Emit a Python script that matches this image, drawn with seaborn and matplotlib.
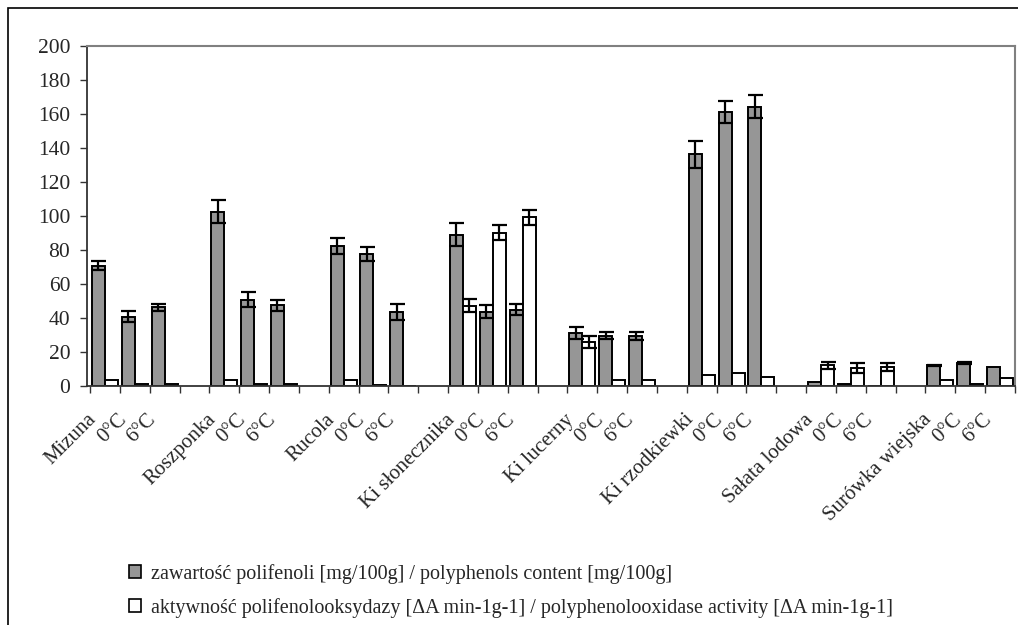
import numpy as np
import pandas as pd
import matplotlib
matplotlib.use("Agg")
import matplotlib.pyplot as plt
import seaborn as sns
from matplotlib.patches import Rectangle, Patch
from matplotlib.container import BarContainer

# ---------------- data ----------------
products = ["Mizuna", "Roszponka", "Rucola", "Ki słonecznika", "Ki lucerny",
            "Ki rzodkiewki", "Sałata lodowa", "Surówka wiejska"]
conditions = ["0°C", "6°C"]
series_names = ["zawartość polifenoli [mg/100g] / polyphenols content [mg/100g]",
                "aktywność polifenolooksydazy [ΔA min-1g-1] / polyphenolooxidase activity [ΔA min-1g-1]"]

# per product: [fresh, 0°C, 6°C]
polyphenols = [[70.8, 40.7, 46.2], [102.5, 50.7, 47.4], [82.2, 77.7, 43.8],
               [89.0, 43.8, 45.0], [31.3, 29.5, 29.2], [136.4, 161.3, 164.4],
               [2.3, 1.0, 0.0], [12.1, 13.5, 11.0]]
polyphenols_err = [[2.6, 3.3, 2.3], [6.7, 4.5, 3.3], [4.7, 4.3, 4.7],
                   [6.9, 3.6, 3.5], [3.7, 2.0, 2.3], [8.0, 6.6, 7.0],
                   [0.0, 0.0, 0.0], [0.5, 0.4, 0.0]]
ppo = [[3.3, 1.0, 1.0], [3.3, 1.0, 1.0], [3.3, 0.5, 0.0],
       [47.2, 90.2, 99.2], [26.0, 3.3, 3.3], [6.7, 7.8, 5.5],
       [12.1, 10.6, 11.2], [3.3, 1.0, 4.5]]
ppo_err = [[0.0, 0.0, 0.0], [0.0, 0.0, 0.0], [0.0, 0.0, 0.0],
           [3.7, 4.5, 4.5], [3.4, 0.0, 0.0], [0.0, 0.0, 0.0],
           [2.0, 3.0, 2.3], [0.0, 0.0, 0.0]]

# ---------------- build long table ----------------
rows, labels, err_lookup = [], [], {}
slot = 0
for g, prod in enumerate(products):
    for c in range(3):
        labels.append(prod if c == 0 else conditions[c - 1])
        for s, (vals, errs) in enumerate([(polyphenols, polyphenols_err), (ppo, ppo_err)]):
            rows.append({"slot": slot, "series": series_names[s], "value": vals[g][c]})
            err_lookup[(slot, s)] = errs[g][c]
        slot += 1
    if g < len(products) - 1:
        labels.append("")
        slot += 1
n_slots = slot
df = pd.DataFrame(rows)

# ---------------- style ----------------
sns.set_style("white")
plt.rcParams["font.family"] = ["Liberation Serif", "DejaVu Serif"]

grey = "#969696"
fig = plt.figure(figsize=(10.18, 6.25), dpi=100)
ax = fig.add_axes([87 / 1018, 1 - 386 / 625, (1015 - 87) / 1018, (386 - 46) / 625])

sns.barplot(data=df, x="slot", y="value", hue="series", order=list(range(n_slots)),
            hue_order=series_names, palette=[grey, "white"], width=0.87,
            edgecolor="black", linewidth=1.4, errorbar=None, legend=False, ax=ax)

# error bars at library-placed bar positions
bar_containers = [c for c in ax.containers if isinstance(c, BarContainer)]
for s, cont in enumerate(bar_containers):
    for p in cont.patches:
        xc = p.get_x() + p.get_width() / 2
        h = p.get_height()
        if np.isnan(h):
            continue
        e = err_lookup.get((int(round(xc)), s), 0.0)
        if e > 0:
            ax.errorbar(xc, h, yerr=e, fmt="none", ecolor="black", elinewidth=1.6,
                        capsize=5.4, capthick=1.6, zorder=5)

ax.set_xlim(-0.5, n_slots - 0.5)
ax.set_ylim(0, 200)
ax.set_yticks(np.arange(0, 201, 20))
ax.set_xlabel("")
ax.set_ylabel("")

# major ticks at slot boundaries, labels via minor ticks
ax.set_xticks(np.arange(-0.5, n_slots, 1))
ax.set_xticklabels([])
ax.set_xticks(np.arange(n_slots) - 0.6, minor=True)
ax.set_xticklabels(labels, minor=True, rotation=45, ha="right", va="top",
                   rotation_mode="anchor", fontsize=15)
ax.tick_params(axis="x", which="minor", length=0, pad=17.5)
ax.tick_params(axis="x", which="major", direction="out", length=5, width=1, color="#333333", bottom=True)
ax.tick_params(axis="y", direction="out", length=5, width=1, color="#333333", left=True,
               labelsize=15.5, pad=7)

for side in ["left", "bottom"]:
    ax.spines[side].set_color("#333333")
    ax.spines[side].set_linewidth(1.3)
for side in ["top", "right"]:
    ax.spines[side].set_color("#808080")
    ax.spines[side].set_linewidth(1.5)
ax.grid(False)

# legend
handles = [Patch(facecolor=grey, edgecolor="black", linewidth=1.2),
           Patch(facecolor="white", edgecolor="black", linewidth=1.2)]
fig.legend(handles=handles, labels=series_names, loc="upper left",
           bbox_to_anchor=(129 / 1018, 1 - 564 / 625), frameon=False, fontsize=14.5,
           handlelength=0.62, handleheight=0.62, handletextpad=0.45,
           labelspacing=0.68, borderpad=0, borderaxespad=0)

# outer frame
fig.add_artist(Rectangle((8 / 1018, -0.05), 1.1, 1 - 8 / 625 + 0.05, transform=fig.transFigure,
                         fill=False, edgecolor="black", linewidth=1.2))

fig.savefig("out.png", dpi=100)
